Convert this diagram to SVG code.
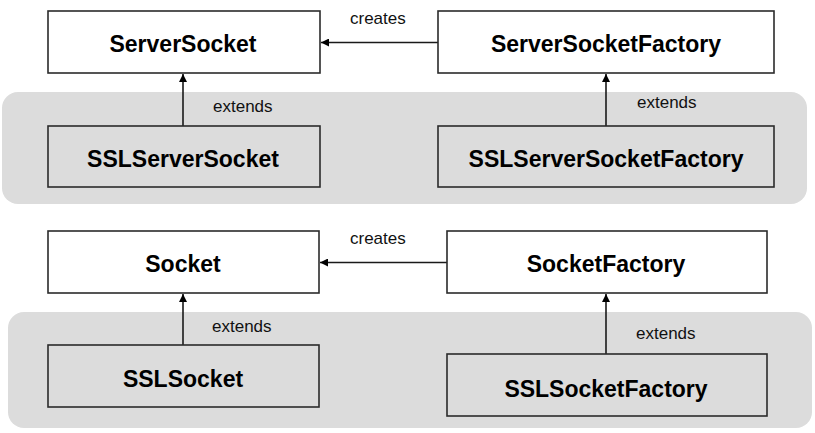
<svg xmlns="http://www.w3.org/2000/svg" width="815" height="433" viewBox="0 0 815 433">
<style>
.panel{fill:#dcdcdc;stroke:none}
.box{stroke:#2b2b2b;stroke-width:1.6}
.top{fill:#ffffff}
.ssl{fill:#dcdcdc}
.title{font-family:"Liberation Sans",Arial,sans-serif;font-weight:bold;font-size:23px;fill:#000;text-anchor:middle}
.lbl{font-family:"Liberation Sans",Arial,sans-serif;font-size:17px;fill:#111}
.con{stroke:#1a1a1a;stroke-width:1.6;fill:none;marker-end:url(#arr)}
</style>
<defs>
<marker id="arr" viewBox="0 0 10 10" refX="10" refY="5" markerWidth="10" markerHeight="8" markerUnits="userSpaceOnUse" orient="auto">
<path d="M0,0 L10,5 L0,10 z" fill="#000"/>
</marker>
</defs>
<rect class="panel" x="2" y="92" width="805" height="112" rx="16"/>
<rect class="panel" x="8" y="312" width="804" height="116" rx="16"/>
<g id="connectors">
<line class="con" x1="183" y1="126" x2="183" y2="74"/>
<line class="con" x1="606" y1="126" x2="606" y2="74"/>
<line class="con" x1="438" y1="42.5" x2="321" y2="42.5"/>
<line class="con" x1="183" y1="345" x2="183" y2="294"/>
<line class="con" x1="606" y1="354" x2="606" y2="294"/>
<line class="con" x1="447" y1="262.5" x2="320" y2="262.5"/>
<text class="lbl" x="350" y="24">creates</text>
<text class="lbl" x="213" y="112">extends</text>
<text class="lbl" x="637" y="108">extends</text>
<text class="lbl" x="350" y="244">creates</text>
<text class="lbl" x="212" y="332">extends</text>
<text class="lbl" x="636" y="339">extends</text>
</g>
<g id="ServerSocket">
<rect class="box top" x="48" y="11" width="272" height="62"/>
<text class="title" x="183" y="51.5">ServerSocket</text>
</g>
<g id="ServerSocketFactory">
<rect class="box top" x="438" y="11" width="336" height="62"/>
<text class="title" x="606" y="51.5">ServerSocketFactory</text>
</g>
<g id="SSLServerSocket">
<rect class="box ssl" x="48" y="126" width="272" height="61"/>
<text class="title" x="183" y="166.5">SSLServerSocket</text>
</g>
<g id="SSLServerSocketFactory">
<rect class="box ssl" x="438" y="126" width="336" height="61"/>
<text class="title" x="606" y="166.5">SSLServerSocketFactory</text>
</g>
<g id="Socket">
<rect class="box top" x="48" y="231" width="271" height="62"/>
<text class="title" x="183" y="271.5">Socket</text>
</g>
<g id="SocketFactory">
<rect class="box top" x="447" y="231" width="320" height="62"/>
<text class="title" x="606" y="271.5">SocketFactory</text>
</g>
<g id="SSLSocket">
<rect class="box ssl" x="48" y="345" width="271" height="62"/>
<text class="title" x="183" y="386.5">SSLSocket</text>
</g>
<g id="SSLSocketFactory">
<rect class="box ssl" x="447" y="354" width="320" height="62"/>
<text class="title" x="606" y="396.5">SSLSocketFactory</text>
</g>
</svg>
